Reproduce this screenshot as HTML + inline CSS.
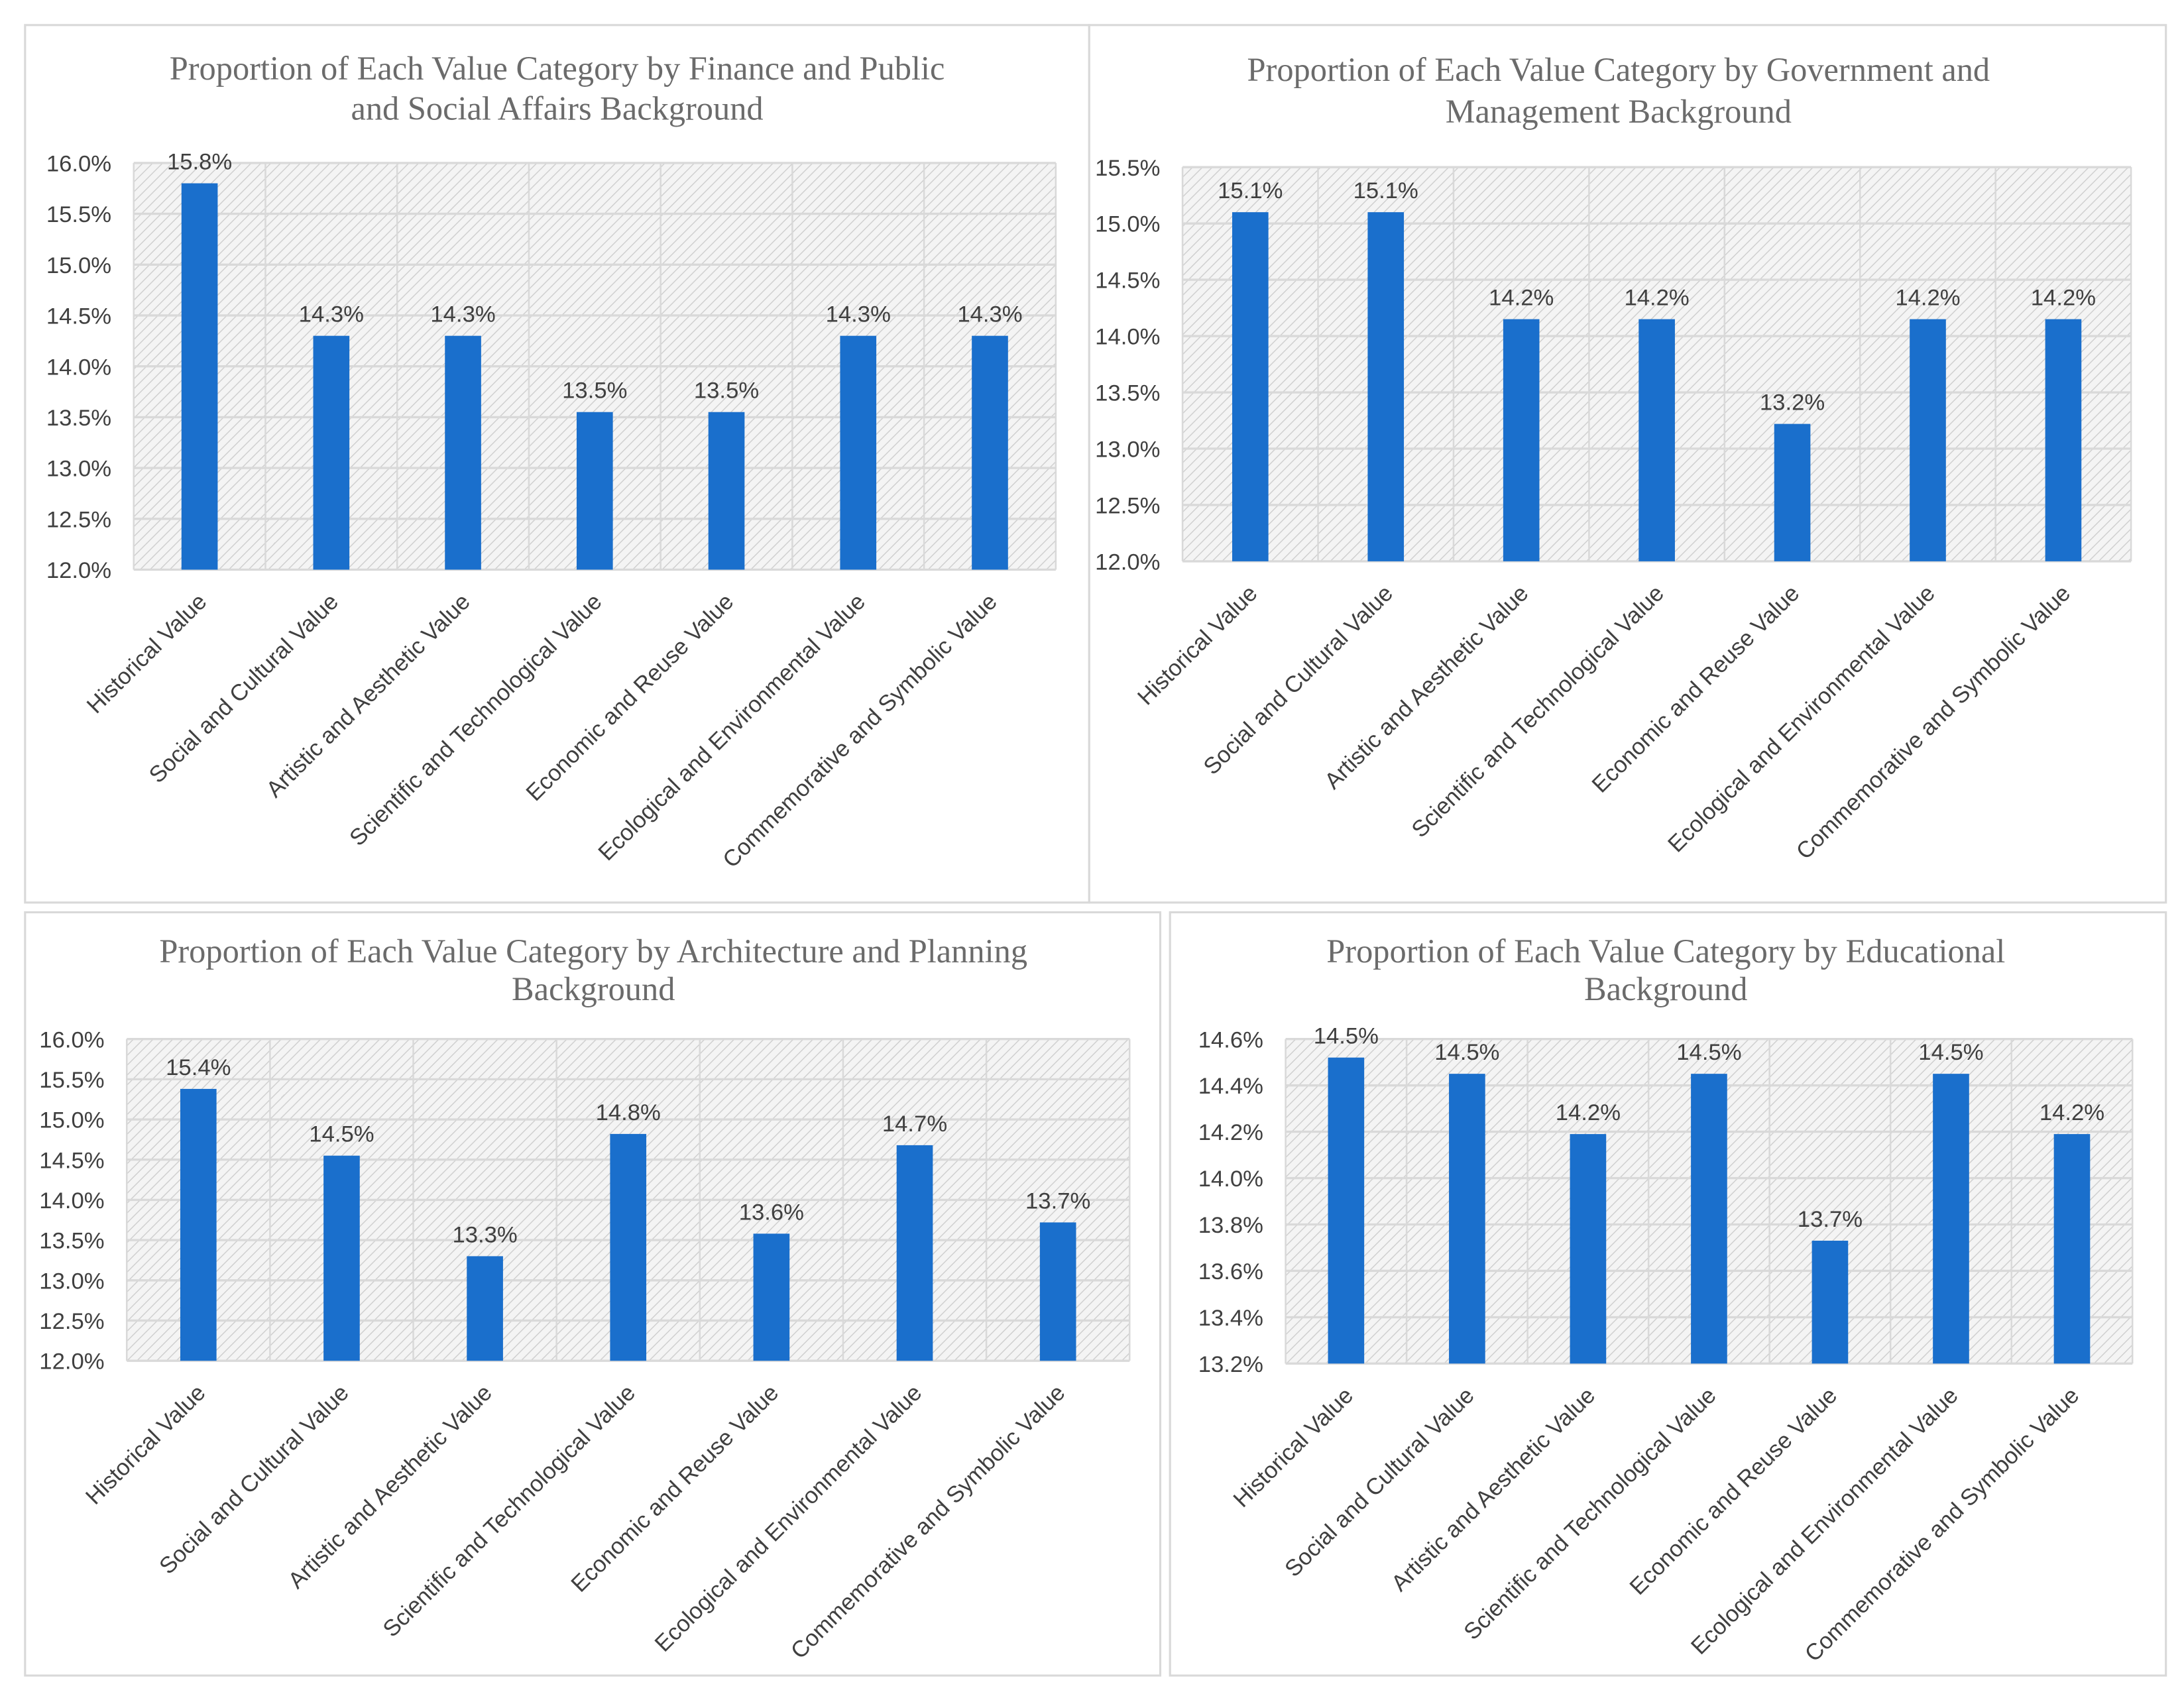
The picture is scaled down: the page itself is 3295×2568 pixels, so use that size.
<!DOCTYPE html>
<html><head><meta charset="utf-8"><style>
html,body{margin:0;padding:0;background:#fff;}
svg{display:block;}
text{font-family:"Liberation Sans",sans-serif;}
.title{font-family:"Liberation Serif",serif;font-size:24px;fill:#6b6b6b;}
.tick{font-size:16.5px;fill:#404040;}
.val{font-size:16.5px;fill:#404040;}
.cat{font-size:16.5px;fill:#404040;}
</style></head><body>
<svg id="root" width="3295" height="2568" viewBox="0 0 1568 1222" preserveAspectRatio="none">
<defs>
<pattern id="hatch" patternUnits="userSpaceOnUse" width="5" height="5" patternTransform="rotate(45)">
<rect width="5" height="5" fill="#f4f4f4"/>
<line x1="0" y1="0" x2="0" y2="5" stroke="#cfcfcf" stroke-width="1.4"/>
</pattern>
</defs>
</svg>
<script>
const categories = ["Historical Value","Social and Cultural Value","Artistic and Aesthetic Value","Scientific and Technological Value","Economic and Reuse Value","Ecological and Environmental Value","Commemorative and Symbolic Value"];
const financeValues = [15.8,14.3,14.3,13.55,13.55,14.3,14.3];
const financeLabels = ["15.8%","14.3%","14.3%","13.5%","13.5%","14.3%","14.3%"];
const governmentValues = [15.1,15.1,14.15,14.15,13.22,14.15,14.15];
const governmentLabels = ["15.1%","15.1%","14.2%","14.2%","13.2%","14.2%","14.2%"];
const architectureValues = [15.38,14.55,13.3,14.82,13.58,14.68,13.72];
const architectureLabels = ["15.4%","14.5%","13.3%","14.8%","13.6%","14.7%","13.7%"];
const educationValues = [14.52,14.45,14.19,14.45,13.73,14.45,14.19];
const educationLabels = ["14.5%","14.5%","14.2%","14.5%","13.7%","14.5%","14.2%"];
const ticksA = [12.0,12.5,13.0,13.5,14.0,14.5,15.0,15.5,16.0];
const ticksB = [12.0,12.5,13.0,13.5,14.0,14.5,15.0,15.5];
const ticksC = [13.2,13.4,13.6,13.8,14.0,14.2,14.4,14.6];

const NS="http://www.w3.org/2000/svg";
const root=document.getElementById('root');
function el(tag,attrs,parent){const e=document.createElementNS(NS,tag);for(const k in attrs)e.setAttribute(k,attrs[k]);(parent||root).appendChild(e);return e;}

const panels=[
 {name:'finance',box:[18,18,764,630],plot:[96,117,758,409],title:["Proportion of Each Value Category by Finance and Public","and Social Affairs Background"],ty:[57,86],tx:400,vals:financeValues,labels:financeLabels,ticks:ticksA,dec:1},
 {name:'government',box:[782,18,773,630],plot:[849,120,1530,403],title:["Proportion of Each Value Category by Government and","Management Background"],ty:[58,88],tx:1162,vals:governmentValues,labels:governmentLabels,ticks:ticksB,dec:1},
 {name:'architecture',box:[18,655,815,548],plot:[91,746,811,977],title:["Proportion of Each Value Category by Architecture and Planning","Background"],ty:[691,718],tx:426,vals:architectureValues,labels:architectureLabels,ticks:ticksA,dec:1},
 {name:'education',box:[840,655,715,548],plot:[923,746,1531,979],title:["Proportion of Each Value Category by Educational","Background"],ty:[691,718],tx:1196,vals:educationValues,labels:educationLabels,ticks:ticksC,dec:1}
];

panels.forEach(p=>{
 const g=el('g',{});
 
 
 const fr=el('rect',{x:p.box[0],y:p.box[1],width:p.box[2],height:p.box[3],fill:'#fff',stroke:'#d9d9d9','stroke-width':1.5},g);
 
 
 p.title.forEach((t,i)=>{
  const tt=el('text',{x:p.tx,y:p.ty[i],'text-anchor':'middle',class:'title'},g);
  tt.textContent=t;
  
  
 });
 const [x0,y0,x1,y1]=p.plot;
 const tmin=p.ticks[0],tmax=p.ticks[p.ticks.length-1];
 const yS=v=>y1-(v-tmin)/(tmax-tmin)*(y1-y0);
 const bw=(x1-x0)/categories.length;
 const xS=i=>x0+bw*(i+0.5);
 const bg=el('rect',{x:x0,y:y0,width:x1-x0,height:y1-y0,fill:'url(#hatch)'},g);
 
 
 p.ticks.forEach(t=>{
  const y=yS(t);
  const gl=el('line',{x1:x0,x2:x1,y1:y,y2:y,stroke:'#d9d9d9','stroke-width':1.6},g);
  
  
  const tl=el('text',{x:x0-16,y:y+6,'text-anchor':'end',class:'tick'},g);
  tl.textContent=t.toFixed(p.dec)+'%';
  
  
 });
 for(let i=0;i<=categories.length;i++){
  const x=x0+bw*i;
  const vl=el('line',{x1:x,x2:x,y1:y0,y2:y1,stroke:'#d9d9d9','stroke-width':1.2},g);
  
  
 }
 p.vals.forEach((v,i)=>{
  const cx=xS(i),w=26;
  const b=el('rect',{x:cx-w/2,y:yS(v),width:w,height:y1-yS(v),fill:'#1a6fcc'},g);
  
  
  const vt=el('text',{x:cx,y:yS(v)-10,'text-anchor':'middle',class:'val'},g);
  vt.textContent=p.labels[i];
  
  
  const ct=el('text',{x:cx+6,y:y1+24,'text-anchor':'end',class:'cat',transform:`rotate(-45 ${cx+6} ${y1+24})`},g);
  ct.textContent=categories[i];
  
  
 });
});
</script>
</body></html>
